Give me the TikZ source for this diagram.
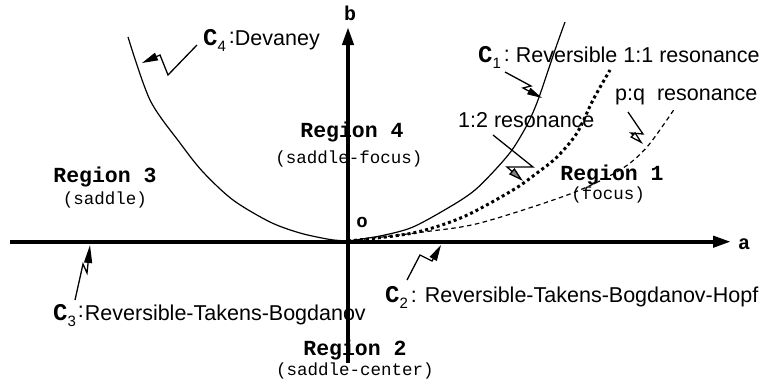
\documentclass[tikz,border=0pt]{standalone}
\usepackage{fontspec}
\setmainfont{Liberation Sans}
\setmonofont{Liberation Mono}
\usetikzlibrary{arrows.meta}
\newcommand{\Clab}[1]{{\ttfamily\bfseries\fontsize{24}{24}\selectfont C}\raisebox{-6pt}{\fontsize{15}{15}\selectfont #1}}

\begin{document}
\begin{tikzpicture}[x=1pt, y=-1pt,
  axis/.style={line width=4pt, -{Triangle[length=18pt, width=11pt]}},
  curve/.style={line width=1.2pt},
  ptr/.style={line width=1.3pt, line join=miter, -{Triangle[length=16pt, width=8pt]}},
  lab/.style={inner sep=0pt, anchor=base west, font=\fontsize{21.5}{24}\selectfont},
  reg/.style={inner sep=0pt, anchor=base, font=\ttfamily\bfseries\fontsize{21.5}{24}\selectfont},
  regsub/.style={inner sep=0pt, anchor=base, font=\ttfamily\fontsize{17.5}{20}\selectfont}
]
  \useasboundingbox (0,0) rectangle (781,383);

  % axes
  \coordinate (O) at (348,241.7);
  \coordinate (amin) at (10,241.7);
  \coordinate (amax) at (731,241.7);
  \coordinate (bmin) at (348,363);
  \coordinate (bmax) at (348,27);
  \draw[axis] (amin) -- (amax);
  \draw[axis] (bmin) -- (bmax);
  \node[reg, font=\ttfamily\bfseries\fontsize{20}{22}\selectfont] (alab) at (744,249) {a};
  \node[reg, font=\ttfamily\bfseries\fontsize{20}{22}\selectfont] (blab) at (350,20) {b};
  \node[reg, font=\ttfamily\bfseries\fontsize{19}{20}\selectfont] (olab) at (362,227) {o};

  % curves
  \draw[curve] plot[smooth] coordinates {(128,37) (150,100) (180,143) (203,172) (233,200) (270,222) (300,233) (330,239.5) (348,241)};
  \draw[curve] plot[smooth] coordinates {(348,241) (380,236) (413,227) (453,205) (475,190) (495,170) (512,150) (527,125) (538,100) (555,50) (565,22)};
  \draw[line width=3pt, dash pattern=on 3pt off 3pt] plot[smooth] coordinates {(348,241) (413,233) (463,217) (513,190) (537,173) (557,157) (577,133) (593,100) (610,70)};
  \draw[curve, dash pattern=on 4.5pt off 3.5pt] plot[smooth] coordinates {(348,241) (423,232) (480,223) (570,194) (620,170) (647,147) (675,108)};

  % labels
  \node[lab] (c4lab) at (203,45) {\Clab{4}\hspace{3pt}\raisebox{2pt}{:}Devaney};
  \node[lab] (c1lab) at (478,62) {\Clab{1}\hspace{3pt}\raisebox{1pt}{:} Reversible 1:1 resonance};
  \node[lab] (pqlab) at (615,100) {p:q\ \ resonance};
  \node[lab] (r12lab) at (458,127) {1:2 resonance};
  \node[lab] (c3lab) at (53,320) {\Clab{3}\hspace{2pt}\raisebox{3pt}{:}\hspace{1pt}Reversible-Takens-Bogdanov};
  \node[lab] (c2lab) at (385,302) {\Clab{2}\hspace{3pt}:\hspace{8pt}Reversible-Takens-Bogdanov-Hopf};

  % regions
  \node[reg] (reg4) at (352,137) {Region 4};
  \node[regsub] (reg4s) at (349,163) {(saddle-focus)};
  \node[reg] (reg3) at (105,182) {Region 3};
  \node[regsub] (reg3s) at (105,204) {(saddle)};
  \node[reg] (reg1) at (612,180) {Region 1};
  \node[regsub] (reg1s) at (608,199) {(focus)};
  \node[reg] (reg2) at (355,355) {Region 2};
  \node[regsub] (reg2s) at (355,375) {(saddle-center)};

  % pointers
  \coordinate (c4p) at (142,63);
  \coordinate (c1p) at (542,98);
  \coordinate (r12p) at (523,181);
  \coordinate (pqp) at (643,144);
  \coordinate (c3p) at (90,245);
  \coordinate (c2p) at (441,245);
  \draw[ptr] (197,45) -- (168,75) -- (160,55) -- (c4p);
  \draw[ptr, -{Triangle[length=15pt, width=7pt]}] (505,72) -- (531,86) -- (523,88) -- (c1p);
  \draw[ptr, -{Triangle[length=15pt, width=8pt, fill=gray]}] (493,135) -- (533,167) -- (507,167) -- (r12p);
  \draw[ptr, -{Triangle[open, length=14pt, width=7pt]}] (628,112) -- (643,134) -- (631,133) -- (pqp);
  \draw[ptr, -{Triangle[length=18pt, width=8pt]}] (75,300) -- (83,264) -- (87,273) -- (c3p);
  \draw[ptr] (407,280) -- (420,255) -- (432,261) -- (c2p);
\end{tikzpicture}
\end{document}
